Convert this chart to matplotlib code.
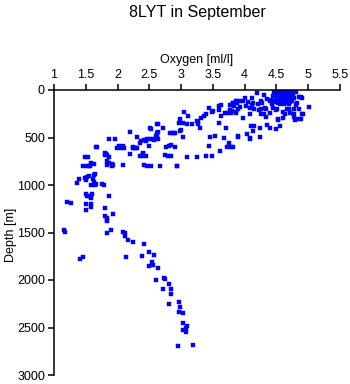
#!/usr/bin/env python3
"""
Oxygen profile scatter - 8LYT in September.
"""

import matplotlib
matplotlib.use('Agg')
import matplotlib.pyplot as plt

plt.rcParams['font.family'] = ['Liberation Sans', 'DejaVu Sans']

# Oxygen [ml/l] and depth [m] of each sample
# deep part of the profile (>900 m)
deep_oxygen = [1.16, 1.17, 1.21, 1.26, 1.36, 1.40, 1.65, 1.63, 1.49, 1.52, 1.55, 1.51,
               1.62, 1.63, 1.59, 1.65, 1.66, 1.76, 1.78, 1.50, 1.52, 1.55, 1.58, 1.60,
               1.58, 1.51, 1.58, 1.58, 1.51, 1.81, 1.87, 1.81, 1.84, 1.84, 1.83, 1.93,
               1.90, 1.84, 2.08, 2.12, 2.12, 2.16, 2.25, 2.42, 1.41, 1.46, 2.13, 2.38,
               2.50, 2.57, 2.54, 2.49, 2.56, 2.64, 2.73, 2.74, 2.60, 2.81, 2.71, 2.84,
               2.84, 2.81, 2.96, 2.98, 2.97, 3.03, 3.03, 3.10, 3.07, 3.03, 3.08, 2.95,
               3.18]
deep_depth = [1470, 1490, 1178, 1193, 982, 940, 884, 893, 930, 912, 905, 951,
              940, 965, 1000, 1000, 985, 985, 1000, 1098, 1119, 1112, 1122, 1098,
              1140, 1203, 1195, 1228, 1262, 1244, 1118, 1328, 1345, 1365, 1382, 1307,
              1474, 1509, 1493, 1507, 1532, 1582, 1604, 1620, 1782, 1754, 1758, 1751,
              1709, 1740, 1814, 1856, 1846, 1877, 1975, 1990, 2004, 2046, 2098, 2098,
              2151, 2256, 2235, 2281, 2337, 2347, 2456, 2486, 2505, 2523, 2544, 2698,
              2684]

# intermediate layer (350-900 m)
mid_oxygen = [1.46, 1.52, 1.49, 1.53, 1.59, 1.63, 1.66, 1.68, 1.55, 1.57,
              1.81, 1.82, 1.80, 1.84, 1.86, 1.84, 1.86, 1.83, 1.91, 1.92, 1.93,
              1.86, 1.96, 1.99, 2.02, 2.04, 2.06, 2.08, 2.10, 2.09, 2.19, 2.19,
              2.24, 2.27, 2.30, 2.31, 2.35, 2.37, 2.39, 2.40, 2.41, 2.42, 2.44,
              2.47, 2.45, 2.50, 2.52, 2.52, 2.55, 2.57, 2.62, 2.62, 2.63, 2.64,
              2.67, 2.72, 2.74, 2.77, 2.80, 2.81, 2.82, 2.85, 2.89, 2.91, 2.94,
              2.84, 2.90, 2.84, 2.51, 2.63, 2.62, 2.61, 2.51, 2.40, 2.47, 2.36,
              2.28, 2.03, 2.25]
mid_depth = [800, 800, 702, 708, 765, 779, 604, 598, 800, 800,
             663, 672, 683, 684, 705, 744, 772, 790, 775, 800, 786,
             519, 512, 611, 605, 598, 607, 590, 612, 793, 442, 674,
             607, 612, 491, 610, 554, 537, 695, 674, 789, 526, 533,
             519, 695, 590, 407, 800, 519, 526, 484, 361, 512, 442,
             800, 404, 684, 600, 691, 589, 449, 449, 449, 449, 800,
             579, 604, 695, 404, 361, 453, 484, 519, 667, 800, 695,
             614, 590, 604]

# upper layer, 3-4 ml/l
upper_oxygen = [3.05, 3.11, 2.99, 2.97, 3.03, 3.09, 3.17, 3.25, 3.26, 3.27, 3.30,
                3.32, 3.36, 3.39, 3.44, 3.48, 3.50, 3.59, 3.60, 3.63, 3.62, 3.69,
                3.72, 3.77, 3.77, 3.79, 3.82, 3.84, 3.86, 3.87, 3.88, 3.60, 3.71,
                3.89, 3.46, 3.54, 3.68, 3.75, 3.72, 3.78, 3.61, 3.44, 3.49, 3.39,
                3.25, 3.09, 3.03, 3.00, 2.98, 2.93]
upper_depth = [235, 274, 309, 351, 351, 361, 361, 326, 361, 337, 404,
               291, 274, 256, 193, 228, 221, 168, 211, 274, 160, 239,
               239, 158, 211, 239, 133, 168, 239, 112, 140, 351, 404,
               491, 491, 484, 502, 554, 604, 604, 639, 590, 695, 695,
               702, 702, 498, 421, 435, 800]

# near-surface, above 4 ml/l
surface_oxygen = [4.19, 4.30, 4.35, 4.27, 4.21, 4.13, 4.05, 3.98, 3.93, 3.88, 3.82,
                  3.78, 4.02, 4.11, 4.40, 4.43, 4.45, 4.32, 4.25, 4.22, 4.09, 3.93,
                  3.90, 3.87, 3.80, 4.09, 4.25, 4.30, 4.40, 4.33, 4.50, 4.66, 4.71,
                  4.77, 4.90, 4.77, 4.87, 4.79, 4.63, 4.53, 4.60, 5.02, 3.97, 4.10,
                  4.15, 4.24, 4.13, 4.35, 4.40, 4.56, 4.50, 4.04, 4.08, 4.09, 4.24,
                  3.89, 3.81, 4.92, 4.88, 4.81, 4.77, 4.85, 4.80, 4.85, 4.88, 4.81,
                  4.00, 4.14, 4.34, 4.51, 4.61, 4.53, 4.69, 4.90, 4.82, 4.25, 4.11,
                  4.47, 4.46, 4.42, 4.44]
surface_depth = [32, 56, 90, 137, 147, 137, 126, 119, 112, 119, 137,
                 154, 165, 158, 112, 147, 189, 189, 196, 207, 189, 182,
                 196, 232, 218, 253, 253, 253, 242, 288, 207, 196, 242,
                 253, 253, 288, 302, 312, 253, 312, 295, 179, 295, 383,
                 383, 400, 428, 372, 400, 383, 407, 463, 505, 512, 498,
                 488, 604, 256, 309, 302, 204, 204, 161, 70, 70, 18,
                 84, 196, 204, 204, 232, 302, 204, 81, 133, 116, 81,
                 130, 20, 100, 60]

# the packed cluster of surface samples around 4.5-4.8 ml/l
cluster_oxygen = [4.50, 4.54, 4.58, 4.62, 4.66, 4.70, 4.74,
                  4.51, 4.55, 4.59, 4.63, 4.67, 4.71, 4.75,
                  4.50, 4.54, 4.58, 4.62, 4.66, 4.70, 4.74,
                  4.51, 4.55, 4.59, 4.63, 4.67, 4.71, 4.76,
                  4.50, 4.54, 4.58, 4.62, 4.66, 4.70, 4.74,
                  4.49, 4.55, 4.60, 4.64, 4.68, 4.73, 4.78,
                  4.52, 4.57, 4.61, 4.66, 4.71,
                  4.48, 4.56, 4.62, 4.69, 4.74,
                  4.53, 4.60, 4.66, 4.72,
                  4.55, 4.62, 4.70]
cluster_depth = [3, 3, 3, 3, 3, 3, 3,
                 18, 18, 18, 18, 18, 18, 18,
                 33, 33, 33, 33, 33, 33, 33,
                 48, 48, 48, 48, 48, 48, 48,
                 63, 63, 63, 63, 63, 63, 63,
                 80, 78, 82, 80, 78, 82, 85,
                 97, 95, 100, 96, 102,
                 115, 118, 112, 120, 117,
                 132, 130, 135, 128,
                 148, 150, 145]

oxygen = deep_oxygen + mid_oxygen + upper_oxygen + surface_oxygen + cluster_oxygen
depth = deep_depth + mid_depth + upper_depth + surface_depth + cluster_depth

x_ticks = [1, 1.5, 2, 2.5, 3, 3.5, 4, 4.5, 5, 5.5]
x_tick_labels = ['1', '1.5', '2', '2.5', '3', '3.5', '4', '4.5', '5', '5.5']
y_ticks = [0, 500, 1000, 1500, 2000, 2500, 3000]

fig = plt.figure(figsize=(3.5, 3.84), dpi=100)
ax = fig.add_axes([54 / 350, 1 - 375 / 384, (340 - 54) / 350, (375 - 90) / 384])

ax.plot(oxygen, depth, linestyle='none', marker='s', markersize=2.5,
        markerfacecolor='#0000ff', markeredgecolor='#0000ff', markeredgewidth=0.3)

ax.set_xlim(1, 5.5)
ax.set_ylim(3000, 0)

ax.xaxis.tick_top()
ax.xaxis.set_label_position('top')
ax.set_xticks(x_ticks)
ax.set_xticklabels(x_tick_labels)
ax.set_yticks(y_ticks)

ax.spines['right'].set_visible(False)
ax.spines['bottom'].set_visible(False)
for side in ('top', 'left'):
    ax.spines[side].set_linewidth(1.1)
ax.tick_params(axis='both', direction='out', length=4, width=1.1,
               labelsize=9, pad=2.5, colors='black')

ax.set_xlabel('Oxygen [ml/l]', fontsize=9, labelpad=4)
ax.set_ylabel('Depth [m]', fontsize=9)
ax.yaxis.set_label_coords(-0.13, 0.49)

fig.text(197 / 350, 1 - 12 / 384, '8LYT in September', ha='center', va='center',
         fontsize=11.5)

plt.savefig('out.png', dpi=100, facecolor='white')
plt.close()
